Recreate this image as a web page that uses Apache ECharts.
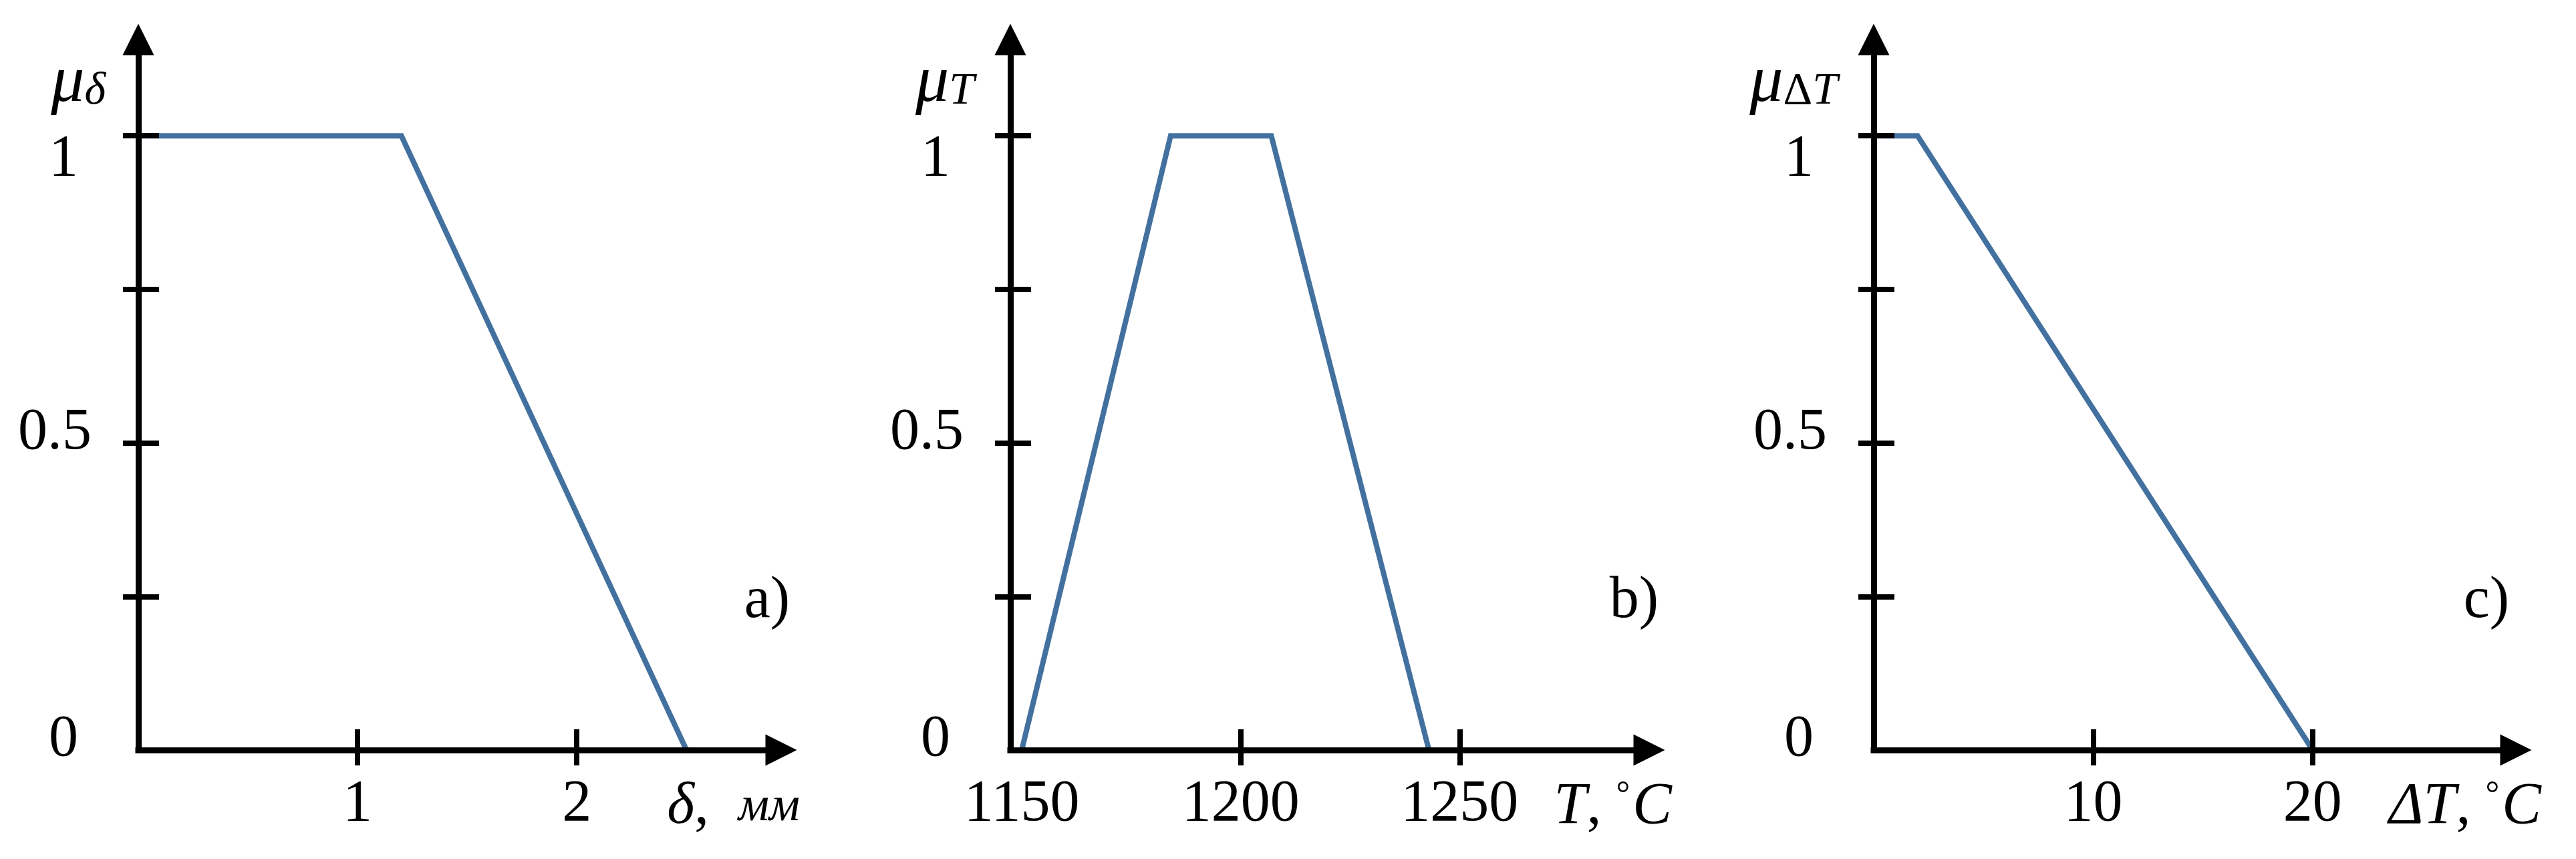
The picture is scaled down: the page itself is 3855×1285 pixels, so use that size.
<!DOCTYPE html>
<html>
<head>
<meta charset="utf-8">
<script src="https://cdn.jsdelivr.net/npm/echarts@6/dist/echarts.min.js"></script>
<style>
  html, body { margin: 0; padding: 0; background: #fff; }
  #chart { width: 3855px; height: 1285px; }
</style>
</head>
<body>
<div id="chart"></div>
<script>
// a) thickness δ, mm
const deltaX = [0, 1.2, 2.5];
const deltaMu = [1, 1, 0];
// b) temperature T, °C
const tempX = [1150, 1184, 1207, 1243];
const tempMu = [0, 1, 1, 0];
// c) temperature difference ΔT, °C
const dtX = [0, 2, 20];
const dtMu = [1, 1, 0];

// ticks / labels
const muTicks = [0.25, 0.5, 0.75, 1];
const muLabels = [0, 0.5, 1];
const deltaTicks = [1, 2];
const tempTicks = [1200, 1250];
const tempLabels = [1150, 1200, 1250];
const dtTicks = [10, 20];

const FONT = 'Liberation Serif';
const BLUE = '#43719f';
const FS = 88;

const grids = [
  {left: 207, top: 59, width: 962, height: 1063},
  {left: 1512, top: 59, width: 956, height: 1063},
  {left: 2804, top: 59, width: 961, height: 1063}
];
const xRange = [[0, 2.932], [1147.4, 1293.3], [0, 29.26]];
const yMax = 1.157;

const txt = (extra) => Object.assign({fontFamily: FONT, fontSize: FS, color: '#000'}, extra || {});

function xAxes(gi, ticks, labels, name, nameGap, rich) {
  const base = {type: 'value', gridIndex: gi, min: xRange[gi][0], max: xRange[gi][1],
    position: 'bottom', splitLine: {show: false}, z: 5};
  return [
    Object.assign({}, base, {
      axisLine: {show: true, onZero: false, symbol: ['none', 'triangle'], symbolSize: [47, 47],
        lineStyle: {color: '#000', width: 9, cap: 'square'}},
      axisTick: {show: true, inside: false, length: 23, customValues: ticks, lineStyle: {color: '#000', width: 8}},
      axisLabel: txt({customValues: labels, margin: 38, formatter: v => String(v)}),
      name: name, nameLocation: 'end', nameGap: nameGap, nameMoveOverlap: false,
      nameTextStyle: txt({align: 'right', verticalAlign: 'top', padding: [42, 0, 0, 0], rich: rich})
    }),
    Object.assign({}, base, {
      axisLine: {show: false, onZero: false},
      axisTick: {show: true, inside: true, length: 31, customValues: ticks, lineStyle: {color: '#000', width: 8}},
      axisLabel: {show: false}
    })
  ];
}

const nameRich = {
  m: txt({fontSize: 100, fontStyle: 'italic', lineHeight: 96, verticalAlign: 'top'}),
  s: txt({fontSize: 68, fontStyle: 'italic', lineHeight: 40, verticalAlign: 'bottom'}),
  su: txt({fontSize: 68, lineHeight: 40, verticalAlign: 'bottom'})
};

function yAxes(gi, name, padRight) {
  const base = {type: 'value', gridIndex: gi, min: 0, max: yMax, position: 'left',
    splitLine: {show: false}, z: 5};
  return [
    Object.assign({}, base, {
      axisLine: {show: true, onZero: false, symbol: ['none', 'triangle'], symbolSize: [47, 47],
        lineStyle: {color: '#000', width: 9, cap: 'square'}},
      axisTick: {show: true, inside: false, length: 23, customValues: muTicks, lineStyle: {color: '#000', width: 8}},
      axisLabel: txt({customValues: muLabels, margin: 70, showMinLabel: true,
        formatter: v => v === 1 ? '{hi|1}' : (v === 0 ? '{lo|0}' : '{mid|' + v + '}'),
        rich: {
          hi: txt({padding: [71, 20, 0, 0]}),
          mid: txt({padding: [0, 0, 30, 0]}),
          lo: txt({padding: [0, 20, 30, 0]})
        }}),
      name: name, nameLocation: 'end', nameGap: -64, nameMoveOverlap: false,
      nameTextStyle: txt({align: 'right', verticalAlign: 'middle', padding: [0, padRight, 0, 0], rich: nameRich})
    }),
    Object.assign({}, base, {
      axisLine: {show: false, onZero: false},
      axisTick: {show: true, inside: true, length: 31, customValues: muTicks, lineStyle: {color: '#000', width: 8}},
      axisLabel: {show: false}
    })
  ];
}

const unitRich = {
  i: txt({fontStyle: 'italic'}),
  c: txt({}),
  u: txt({fontSize: 72, fontStyle: 'italic'}),
  d: txt({fontSize: 52, verticalAlign: 'top', lineHeight: 88, padding: [0, 4, 30, 0]})
};

const xAxis = [].concat(
  xAxes(0, deltaTicks, deltaTicks, '{i|δ}{c|,}  {u|мм}', 28, unitRich),
  xAxes(1, tempTicks, tempLabels, '{i|T}{c|,} {d|°}{i|C}', 34, unitRich),
  xAxes(2, dtTicks, dtTicks, '{i|ΔT}{c|,} {d|°}{i|C}', 38, unitRich)
);
const yAxis = [].concat(
  yAxes(0, '{m|μ}{s|δ}', 49),
  yAxes(1, '{m|μ}{s|T}', 54),
  yAxes(2, '{m|μ}{su|Δ}{s|T}', 54)
);

const zip = (xs, ys) => xs.map((x, i) => [x, ys[i]]);
const lineSeries = (gi, data) => ({
  type: 'line', xAxisIndex: 2 * gi, yAxisIndex: 2 * gi, data: data,
  symbol: 'none', showSymbol: false, z: 2,
  lineStyle: {color: BLUE, width: 8, join: 'miter'}
});

const panelText = (text, x) => ({
  type: 'text', x: x, y: 900, z: 10,
  style: {text: text, font: FS + 'px "' + FONT + '"', fill: '#000', align: 'right', verticalAlign: 'middle'}
});

const chart = echarts.init(document.getElementById('chart'), null, {renderer: 'canvas'});
chart.setOption({
  animation: false,
  backgroundColor: '#fff',
  grid: grids.map(g => Object.assign({outerBoundsMode: 'none', containLabel: false}, g)),
  xAxis: xAxis,
  yAxis: yAxis,
  series: [
    lineSeries(0, zip(deltaX, deltaMu)),
    lineSeries(1, zip(tempX, tempMu)),
    lineSeries(2, zip(dtX, dtMu))
  ],
  graphic: [
    panelText('a)', 1182),
    panelText('b)', 2482),
    panelText('c)', 3755)
  ]
});
</script>
</body>
</html>
